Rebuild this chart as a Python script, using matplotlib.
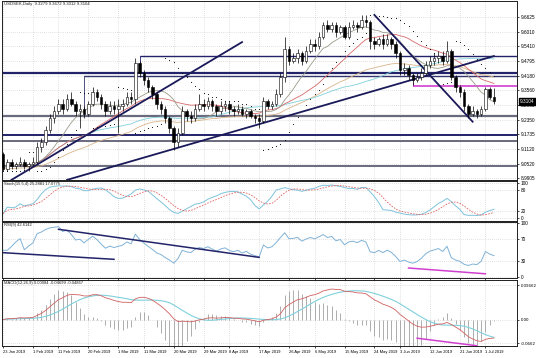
import numpy as np
import pandas as pd
import matplotlib
matplotlib.use("Agg")
import matplotlib.pyplot as plt
import matplotlib.transforms as mtransforms

plt.rcParams["font.family"] = ["Liberation Sans", "DejaVu Sans"]

# 1. Dados (USDSEK diario)
first_day = "2019-01-23"

opens = [9.09, 9.03, 9.06, 9.04, 9.05, 9.06, 9.04, 9.05, 9.06, 9.12,
         9.14, 9.19, 9.24, 9.27, 9.30, 9.28, 9.32, 9.30, 9.27, 9.28,
         9.26, 9.30, 9.35, 9.33, 9.30, 9.27, 9.29, 9.28, 9.29, 9.30,
         9.33, 9.32, 9.47, 9.43, 9.40, 9.37, 9.34, 9.30, 9.28, 9.24,
         9.20, 9.14, 9.18, 9.27, 9.25, 9.24, 9.28, 9.30, 9.29, 9.31,
         9.29, 9.27, 9.29, 9.30, 9.28, 9.27, 9.28, 9.26, 9.27, 9.25,
         9.24, 9.23, 9.31, 9.29, 9.30, 9.34, 9.41, 9.53, 9.48, 9.49,
         9.51, 9.48, 9.52, 9.55, 9.54, 9.58, 9.63, 9.61, 9.63, 9.60,
         9.62, 9.58, 9.62, 9.63, 9.62, 9.65, 9.64, 9.56, 9.55, 9.57,
         9.55, 9.57, 9.55, 9.51, 9.44, 9.45, 9.42, 9.40, 9.41, 9.43,
         9.46, 9.48, 9.49, 9.50, 9.48, 9.52, 9.41, 9.37, 9.35, 9.29,
         9.26, 9.27, 9.26, 9.28, 9.36, 9.3279]
highs = [9.10, 9.07, 9.07, 9.06, 9.08, 9.07, 9.06, 9.08, 9.14, 9.16,
         9.21, 9.26, 9.29, 9.32, 9.32, 9.34, 9.35, 9.31, 9.30, 9.29,
         9.31, 9.37, 9.36, 9.34, 9.31, 9.31, 9.31, 9.32, 9.32, 9.35,
         9.35, 9.49, 9.48, 9.44, 9.41, 9.38, 9.35, 9.31, 9.29, 9.25,
         9.21, 9.20, 9.29, 9.28, 9.27, 9.30, 9.34, 9.32, 9.33, 9.32,
         9.30, 9.31, 9.31, 9.31, 9.29, 9.30, 9.29, 9.28, 9.28, 9.26,
         9.26, 9.33, 9.32, 9.31, 9.36, 9.43, 9.58, 9.54, 9.51, 9.53,
         9.52, 9.54, 9.57, 9.57, 9.60, 9.64, 9.65, 9.64, 9.64, 9.63,
         9.63, 9.64, 9.65, 9.64, 9.67, 9.67, 9.65, 9.58, 9.58, 9.59,
         9.59, 9.58, 9.56, 9.52, 9.47, 9.46, 9.43, 9.43, 9.45, 9.48,
         9.50, 9.51, 9.52, 9.52, 9.56, 9.53, 9.42, 9.38, 9.36, 9.30,
         9.29, 9.28, 9.29, 9.37, 9.37, 9.3672]
lows = [9.02, 9.02, 9.03, 9.03, 9.04, 9.03, 9.02, 9.04, 9.05, 9.10,
        9.13, 9.18, 9.22, 9.26, 9.26, 9.27, 9.29, 9.25, 9.20, 9.24,
        9.25, 9.29, 9.31, 9.28, 9.25, 9.26, 9.26, 9.18, 9.27, 9.29,
        9.30, 9.30, 9.41, 9.38, 9.35, 9.32, 9.28, 9.26, 9.22, 9.18,
        9.11, 9.12, 9.17, 9.23, 9.22, 9.23, 9.27, 9.27, 9.28, 9.27,
        9.25, 9.26, 9.27, 9.26, 9.25, 9.26, 9.25, 9.24, 9.24, 9.22,
        9.20, 9.22, 9.28, 9.28, 9.29, 9.33, 9.39, 9.46, 9.47, 9.47,
        9.46, 9.47, 9.51, 9.52, 9.53, 9.57, 9.60, 9.60, 9.58, 9.59,
        9.57, 9.57, 9.61, 9.60, 9.61, 9.62, 9.53, 9.53, 9.54, 9.53,
        9.54, 9.53, 9.49, 9.42, 9.42, 9.40, 9.38, 9.39, 9.40, 9.42,
        9.45, 9.46, 9.47, 9.46, 9.47, 9.40, 9.35, 9.33, 9.27, 9.24,
        9.25, 9.24, 9.25, 9.27, 9.32, 9.3012]
closes = [9.03, 9.06, 9.04, 9.05, 9.06, 9.04, 9.05, 9.06, 9.12, 9.14,
          9.19, 9.24, 9.27, 9.30, 9.28, 9.32, 9.30, 9.27, 9.28, 9.26,
          9.30, 9.35, 9.33, 9.30, 9.27, 9.29, 9.28, 9.29, 9.30, 9.33,
          9.32, 9.47, 9.43, 9.40, 9.37, 9.34, 9.30, 9.28, 9.24, 9.20,
          9.14, 9.18, 9.27, 9.25, 9.24, 9.28, 9.30, 9.29, 9.31, 9.29,
          9.27, 9.29, 9.30, 9.28, 9.27, 9.28, 9.26, 9.27, 9.25, 9.24,
          9.23, 9.31, 9.29, 9.30, 9.34, 9.41, 9.53, 9.48, 9.49, 9.51,
          9.48, 9.52, 9.55, 9.54, 9.58, 9.63, 9.61, 9.63, 9.60, 9.62,
          9.58, 9.62, 9.63, 9.62, 9.65, 9.64, 9.56, 9.55, 9.57, 9.55,
          9.57, 9.55, 9.51, 9.44, 9.45, 9.42, 9.40, 9.41, 9.43, 9.46,
          9.48, 9.49, 9.50, 9.48, 9.52, 9.41, 9.37, 9.35, 9.29, 9.26,
          9.27, 9.26, 9.28, 9.36, 9.33, 9.3104]

date_labels = ["2019-01-23", "2019-02-01", "2019-02-11", "2019-02-20", "2019-03-01",
               "2019-03-11", "2019-03-20", "2019-03-29", "2019-04-08", "2019-04-17",
               "2019-04-26", "2019-05-06", "2019-05-15", "2019-05-24", "2019-06-03",
               "2019-06-12", "2019-06-21", "2019-07-01"]
price_ticks = [9.6625, 9.6010, 9.5410, 9.4795, 9.4180, 9.3560, 9.2965, 9.2350,
               9.1735, 9.1120, 9.0520, 8.9905]

# linhas horizontais desenhadas: (data inicial ou None, preco, cor, espessura)
levels = [("2019-03-08", 9.499, "#23236a", 1.0),
          (None, 9.427, "#23236a", 1.6),
          ("2019-02-19", 9.417, "#34346e", 1.0),
          (None, 9.251, "#6a6a7e", 1.6),
          (None, 9.171, "#23236a", 1.4),
          (None, 9.147, "#6a6a7e", 1.4),
          (None, 9.042, "#6a6a7e", 1.4),
          ("2019-06-06", 9.374, "#d040d0", 1.2)]
# linhas de tendencia: (data1, valor1, data2, valor2)
price_trends = [("2019-01-25", 8.984, "2019-04-11", 9.557),
                ("2019-02-13", 8.984, "2019-07-03", 9.499),
                ("2019-05-24", 9.670, "2019-06-26", 9.226)]
rsi_trends = [("2019-02-11", 88.9, "2019-04-17", 36.9, "#23236a"),
              ("2019-01-23", 45.6, "2019-02-28", 33.3, "#23236a"),
              ("2019-06-05", 17.2, "2019-07-01", 6.5, "#d040d0")]
macd_trends = [("2019-06-07", -0.052, "2019-06-27", -0.073, "#d040d0")]

titles = {"main": "USDSEK,Daily  9.3279 9.3672 9.3012 9.3104",
          "stoch": "Stoch(15,5,4) 25.2881 17.0775",
          "rsi": "RSI(9) 42.6142",
          "macd": "MACD(12,26,9) 0.00084 -0.04699 -0.04867"}


# 2. Indicadores
def parabolic_sar(high, low, step=0.02, maxstep=0.2):
    sar = np.zeros(len(high))
    bull, af, ep = True, step, high[0]
    sar[0] = low[0]
    for i in range(1, len(high)):
        s = sar[i - 1] + af * (ep - sar[i - 1])
        if bull:
            s = min(s, low[i - 1], low[max(i - 2, 0)])
            if low[i] < s:
                bull, s, ep, af = False, ep, low[i], step
            elif high[i] > ep:
                ep, af = high[i], min(af + step, maxstep)
        else:
            s = max(s, high[i - 1], high[max(i - 2, 0)])
            if high[i] > s:
                bull, s, ep, af = True, ep, high[i], step
            elif low[i] < ep:
                ep, af = low[i], min(af + step, maxstep)
        sar[i] = s
    return sar


def indicadores(df):
    c = df["close"]
    df["sma10"] = c.rolling(10, min_periods=1).mean()
    df["sma21"] = c.rolling(21, min_periods=1).mean()
    df["sma50"] = c.rolling(50, min_periods=1).mean()
    df["ema50"] = c.ewm(span=50, adjust=False).mean()
    df["sar"] = parabolic_sar(df["high"].values, df["low"].values)

    ll = df["low"].rolling(15, min_periods=1).min()
    hh = df["high"].rolling(15, min_periods=1).max()
    num = (c - ll).rolling(4, min_periods=1).sum()
    den = (hh - ll).rolling(4, min_periods=1).sum()
    df["stoch"] = 100 * num / den
    df["stoch_sig"] = df["stoch"].rolling(5, min_periods=1).mean()

    d = c.diff().fillna(0)
    up = d.clip(lower=0).ewm(alpha=1 / 9, adjust=False).mean()
    dn = (-d.clip(upper=0)).ewm(alpha=1 / 9, adjust=False).mean()
    df["rsi"] = 100 - 100 / (1 + up / dn.replace(0, np.nan))
    df["rsi"] = df["rsi"].fillna(50)

    df["macd"] = c.ewm(span=12, adjust=False).mean() - c.ewm(span=26, adjust=False).mean()
    df["macd_sig"] = df["macd"].rolling(9, min_periods=1).mean()
    df["macd_hist"] = 2.5 * (df["macd"] - df["macd_sig"])
    return df


# 3. Grafico
def desenhar(df):
    W, H = 536, 358
    fig = plt.figure(figsize=(W / 100, H / 100), dpi=100)

    def painel(top, bottom):
        return fig.add_axes([2 / W, 1 - bottom / H, 515 / W, (bottom - top) / H])

    ax = painel(1, 180)
    ax_st = painel(181, 221)
    ax_rsi = painel(222, 278)
    ax_macd = painel(280, 346)
    axes = [ax, ax_st, ax_rsi, ax_macd]

    pos = {d: i for i, d in enumerate(df.index)}
    x = np.arange(len(df))
    tick_pos = [pos[pd.Timestamp(d)] for d in date_labels]
    tick_txt = [pd.Timestamp(d).strftime("%d %b %Y").lstrip("0") for d in date_labels]

    for a in axes:
        a.set_xlim(-0.23, 120.4)
        a.yaxis.tick_right()
        a.tick_params(axis="y", labelsize=3.4, length=1.5, pad=1.0, width=0.5)
        a.tick_params(axis="x", length=1.5, width=0.5, labelsize=2.9, pad=1.5)
        a.set_xticks(tick_pos)
        a.xaxis.grid(True, color="#c4c4c4", ls=(0, (1, 2)), lw=0.5)
        a.yaxis.grid(True, color="#c4c4c4", ls=(0, (1, 2)), lw=0.5)
        a.set_axisbelow(True)
        for s in a.spines.values():
            s.set_color("#202020")
            s.set_linewidth(0.7)
        if a is not ax_macd:
            a.set_xticklabels([])

    ax_macd.set_xticklabels(tick_txt)
    for lab in ax_macd.get_xticklabels():
        lab.set_ha("left")

    # painel principal
    ax.set_ylim(8.9835, 9.728)
    ax.set_yticks(price_ticks)
    ax.set_yticklabels([f"{p:.4f}" for p in price_ticks])

    for start, p, col, lw in levels:
        x0 = -0.23 if start is None else pos[pd.Timestamp(start)]
        ax.plot([x0, 120.4], [p, p], color=col, lw=lw, zorder=2, solid_capstyle="butt")
        if start is not None:
            top = df["close"].iloc[x0] if col != "#d040d0" else p + 0.017
            ax.plot([x0, x0], [p, top], color=col, lw=0.6, zorder=2)

    for d1, p1, d2, p2 in price_trends:
        ax.plot([pos[pd.Timestamp(d1)], pos[pd.Timestamp(d2)]], [p1, p2],
                color="#1a1a5a", lw=1.3, zorder=5)

    ax.plot(x, df["ema50"], color="#d9b48a", lw=0.6, zorder=3)
    ax.plot(x, df["sma50"], color="#7fd0dc", lw=0.6, zorder=3)
    ax.plot(x, df["sma21"], color="#d86a6a", lw=0.6, zorder=3)
    ax.plot(x, df["sma10"], color="#9a9a8a", lw=0.6, zorder=3)
    ax.scatter(x, df["sar"], s=0.6, color="black", zorder=4, linewidths=0)

    bull = df["close"] >= df["open"]
    ax.vlines(x, df["low"], df["high"], color="black", lw=0.5, zorder=6)
    body = np.maximum((df["close"] - df["open"]).abs(), 0.002)
    ax.bar(x, body, bottom=np.minimum(df["open"], df["close"]), width=0.6,
           color=np.where(bull, "white", "black"), edgecolor="black", lw=0.4, zorder=7)

    trans = mtransforms.blended_transform_factory(ax.transAxes, ax.transData)
    ax.text(1.006, df["close"].iloc[-1], f"{df['close'].iloc[-1]:.4f}", transform=trans,
            fontsize=3.4, color="white", va="center", ha="left",
            bbox=dict(boxstyle="square,pad=0.2", fc="black", ec="black"))

    # estocastico
    ax_st.set_ylim(-8.6, 105.7)
    ax_st.set_yticks([0, 20, 80, 100])
    ax_st.plot(x, df["stoch"], color="#7ec3dc", lw=0.7)
    ax_st.plot(x, df["stoch_sig"], color="#e06464", lw=0.6, ls=(0, (2, 1.5)))

    # RSI
    ax_rsi.set_ylim(-1.3, 102.4)
    ax_rsi.set_yticks([0, 30, 70, 100])
    ax_rsi.plot(x, df["rsi"], color="#80b2d6", lw=0.7)
    for d1, v1, d2, v2, col in rsi_trends:
        ax_rsi.plot([pos[pd.Timestamp(d1)], pos[pd.Timestamp(d2)]], [v1, v2], color=col, lw=1.1)

    # MACD
    ax_macd.set_ylim(-0.0737, 0.1106)
    ax_macd.set_yticks([-0.0662, 0.0, 0.09662])
    ax_macd.set_yticklabels(["-0.0662", "0.00", "0.09662"])
    ax_macd.tick_params(axis="y", labelsize=3.2)
    ax_macd.vlines(x, 0, df["macd_hist"], color="#a0a0a0", lw=0.6)
    ax_macd.plot(x, df["macd_sig"], color="#7fd0dc", lw=0.8)
    ax_macd.plot(x, df["macd"], color="#d06060", lw=0.6)
    for d1, v1, d2, v2, col in macd_trends:
        ax_macd.plot([pos[pd.Timestamp(d1)], pos[pd.Timestamp(d2)]], [v1, v2], color=col, lw=1.1)

    for a, key in zip(axes, ["main", "stoch", "rsi", "macd"]):
        a.text(0.004, 0.995 if a is ax else 0.98, titles[key], transform=a.transAxes,
               fontsize=3.1 if a is ax else 3.0, va="top", ha="left", color="#202020", zorder=10)

    fig.savefig("out.png", dpi=100)


if __name__ == "__main__":
    datas = pd.bdate_range(first_day, periods=len(closes))
    tabela = pd.DataFrame({"open": opens, "high": highs, "low": lows, "close": closes}, index=datas)
    desenhar(indicadores(tabela))
